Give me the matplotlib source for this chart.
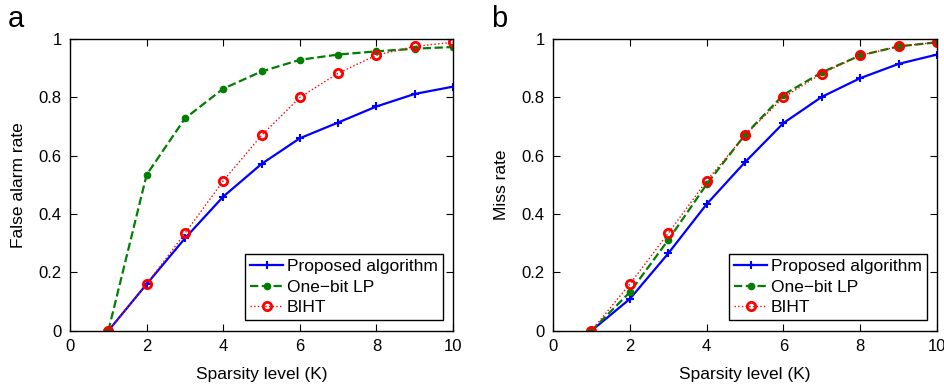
import numpy as np
import matplotlib.pyplot as plt

plt.rcParams['font.family'] = ['Liberation Sans', 'DejaVu Sans']

K = [1, 2, 3, 4, 5, 6, 7, 8, 9, 10]

# (a) false alarm rate
fa_proposed = [0, 0.16, 0.317, 0.46, 0.572, 0.66, 0.714, 0.769, 0.812, 0.837]
fa_onebit = [0, 0.535, 0.728, 0.83, 0.889, 0.929, 0.947, 0.958, 0.967, 0.973]
fa_biht = [0, 0.16, 0.334, 0.514, 0.67, 0.80, 0.883, 0.945, 0.975, 0.989]

# (b) miss rate
miss_proposed = [0, 0.109, 0.265, 0.434, 0.578, 0.712, 0.802, 0.866, 0.915, 0.947]
miss_onebit = [0, 0.132, 0.311, 0.502, 0.672, 0.809, 0.886, 0.944, 0.975, 0.989]
miss_biht = [0, 0.16, 0.334, 0.514, 0.67, 0.80, 0.882, 0.944, 0.975, 0.989]

fig = plt.figure(figsize=(9.44, 3.91), dpi=100)
ax1 = fig.add_axes([0.0742, 0.154, 0.4057, 0.746])
ax2 = fig.add_axes([0.5858, 0.154, 0.4068, 0.746])


def draw(ax, p, o, b, ylabel):
    ax.plot(K, p, color='#0000ff', ls='-', lw=1.6, marker='+', ms=6, mew=1.5,
            label='Proposed algorithm')
    ax.plot(K, o, color='#007f00', ls='--', lw=1.6, marker='.', ms=9,
            label='One\u2212bit LP')
    ax.plot(K, b, color='#ff0000', ls=':', lw=1.0, marker='o', ms=6, mew=2,
            mfc='none', label='BIHT')
    ax.set_xlim(0, 10)
    ax.set_ylim(0, 1)
    ax.set_xticks([0, 2, 4, 6, 8, 10])
    ax.set_yticks([0, 0.2, 0.4, 0.6, 0.8, 1])
    ax.set_yticklabels(['0', '0.2', '0.4', '0.6', '0.8', '1'])
    ax.tick_params(direction='in', top=True, right=True, labelsize=12,
                   length=5, pad=6)
    ax.set_xlabel('Sparsity level (K)', fontsize=12.5, labelpad=9)
    ax.set_ylabel(ylabel, fontsize=12.5, labelpad=9)
    for s in ax.spines.values():
        s.set_linewidth(1.0)
    leg = ax.legend(loc='lower right', fontsize=12.5, fancybox=False,
                    framealpha=1, edgecolor='black', handlelength=1.9,
                    handletextpad=0.2, borderpad=0.3, labelspacing=0.3,
                    borderaxespad=0.6)
    leg.get_frame().set_linewidth(1.0)


draw(ax1, fa_proposed, fa_onebit, fa_biht, 'False alarm rate')
draw(ax2, miss_proposed, miss_onebit, miss_biht, 'Miss rate')

fig.text(0.008, 0.93, 'a', fontsize=21)
fig.text(0.520, 0.93, 'b', fontsize=21)

plt.savefig('out.png', dpi=100)
